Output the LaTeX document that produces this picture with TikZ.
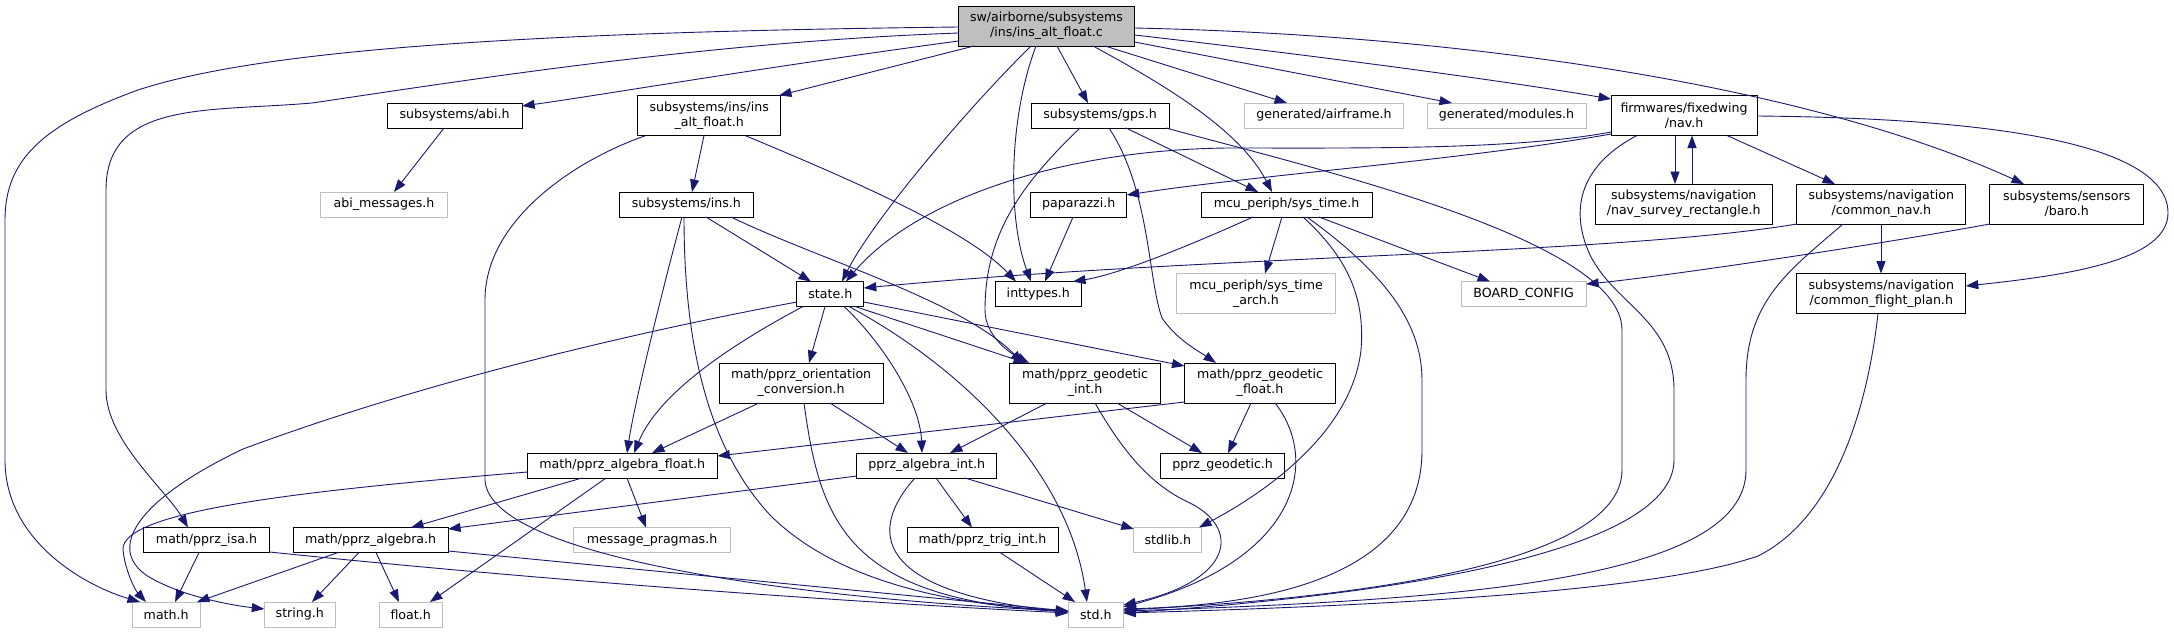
\documentclass[tikz,border=0pt]{standalone}
\usepackage{fontspec}
\setmainfont{DejaVu Sans}
\usetikzlibrary{arrows.meta}
\definecolor{edgeblue}{HTML}{191970}
\definecolor{boxgrey}{HTML}{BFBFBF}
\newcommand\lbl{\fontsize{12.6}{15}\selectfont}
\begin{document}
\begin{tikzpicture}[x=1pt,y=-1pt,
  box/.style={draw=black, line width=1pt, fill=white, inner sep=0pt, outer sep=0pt, align=center, font=\lbl, minimum height=25pt},
  tall/.style={minimum height=40pt},
  gbox/.style={box, draw=boxgrey},
  edge/.style={draw=edgeblue, line width=0.9pt, -{Triangle[length=12.5pt,width=9pt,fill=edgeblue]}}]
\useasboundingbox (0,0) rectangle (2174,633);
\fill[white] (0,0) rectangle (2174,633);
% nodes
\node[box, tall, fill=boxgrey, minimum width=176pt] (root) at (1046.5,26) {sw/airborne/subsystems\\/ins/ins\_alt\_float.c};
\node[box, minimum width=135pt] (abi) at (454.6,115.5) {subsystems/abi.h};
\node[gbox, minimum width=127pt] (abimsg) at (384,204.5) {abi\_messages.h};
\node[box, tall, minimum width=143pt] (insalt) at (709.2,115.5) {subsystems/ins/ins\\\_alt\_float.h};
\node[box, minimum width=134pt] (ins) at (686.4,204.5) {subsystems/ins.h};
\node[box, minimum width=67pt] (state) at (830.3,294) {state.h};
\node[box, minimum width=86pt] (inttypes) at (1038.3,294) {inttypes.h};
\node[box, minimum width=138pt] (gps) at (1100,115.5) {subsystems/gps.h};
\node[box, minimum width=96pt] (paparazzi) at (1078.7,204.5) {paparazzi.h};
\node[box, minimum width=171pt] (systime) at (1286.5,204.5) {mcu\_periph/sys\_time.h};
\node[gbox, tall, minimum width=159pt] (systimearch) at (1256,293.5) {mcu\_periph/sys\_time\\\_arch.h};
\node[gbox, minimum width=159pt] (airframe) at (1324,115.5) {generated/airframe.h};
\node[gbox, minimum width=159pt] (modules) at (1506.5,115.5) {generated/modules.h};
\node[box, tall, minimum width=146pt] (nav) at (1684.1,115.5) {firmwares/fixedwing\\/nav.h};
\node[box, tall, minimum width=177pt] (navsurvey) at (1683.7,204) {subsystems/navigation\\/nav\_survey\_rectangle.h};
\node[box, tall, minimum width=169pt] (commonnav) at (1881.3,204) {subsystems/navigation\\/common\_nav.h};
\node[box, tall, minimum width=154pt] (baro) at (2066.7,204) {subsystems/sensors\\/baro.h};
\node[gbox, minimum width=125pt] (board) at (1523.6,294) {BOARD\_CONFIG};
\node[box, tall, minimum width=169pt] (cfp) at (1881.3,293.5) {subsystems/navigation\\/common\_flight\_plan.h};
\node[box, tall, minimum width=164pt] (orient) at (801.1,383) {math/pprz\_orientation\\\_conversion.h};
\node[box, tall, minimum width=151pt] (geoint) at (1085.1,383) {math/pprz\_geodetic\\\_int.h};
\node[box, tall, minimum width=151pt] (geofloat) at (1260,383) {math/pprz\_geodetic\\\_float.h};
\node[box, minimum width=190pt] (algfloat) at (622.3,465.5) {math/pprz\_algebra\_float.h};
\node[box, minimum width=140pt] (algint) at (926.7,465.5) {pprz\_algebra\_int.h};
\node[box, minimum width=124pt] (geodetic) at (1222.6,465.5) {pprz\_geodetic.h};
\node[box, minimum width=126pt] (isa) at (206.5,540) {math/pprz\_isa.h};
\node[box, minimum width=155pt] (alg) at (370.6,540) {math/pprz\_algebra.h};
\node[gbox, minimum width=157pt] (pragmas) at (652.1,540) {message\_pragmas.h};
\node[box, minimum width=151pt] (trig) at (982.5,540) {math/pprz\_trig\_int.h};
\node[gbox, minimum width=68pt] (stdlib) at (1167.8,540) {stdlib.h};
\node[gbox, minimum width=68pt] (math) at (166.2,614.5) {math.h};
\node[gbox, minimum width=71pt] (string) at (299.8,614.5) {string.h};
\node[gbox, minimum width=63pt] (float) at (410.7,614.5) {float.h};
\node[gbox, minimum width=55pt] (std) at (1095.8,614.5) {std.h};
% root edges
\draw[edge] (root.west |- 0,27) .. controls (520,32) and (260,50) .. (138,90) .. controls (42,125) and (5,160) .. (5,220) -- (5,460) .. controls (5,540) and (83,585) .. (140,0 |- math.north);
\draw[edge] (root.west |- 0,33) .. controls (706,42) and (468,80) .. (312,103) .. controls (208,112) and (106,100) .. (106,190) -- (106,390) .. controls (106,440) and (166,490) .. (188,0 |- isa.north);
\draw[edge] (root.west |- 0,41) .. controls (758,68) and (602,95) .. (abi.east |- 0,106);
\draw[edge] (974,0 |- root.south) -- (779,0 |- insalt.north);
\draw[edge] (1031,0 |- root.south) .. controls (966,110) and (873,220) .. (842,0 |- state.north);
\draw[edge] (1036,0 |- root.south) .. controls (1008,120) and (1008,220) .. (1031,0 |- inttypes.north);
\draw[edge] (1057,0 |- root.south) -- (1088,0 |- gps.north);
\draw[edge] (1093,0 |- root.south) .. controls (1165,85) and (1240,130) .. (1272,0 |- systime.north);
\draw[edge] (1105,0 |- root.south) -- (1287,0 |- airframe.north);
\draw[edge] (root.east |- 0,42) -- (1452,0 |- modules.north);
\draw[edge] (root.east |- 0,35) .. controls (1310,55) and (1500,80) .. (nav.west |- 0,99);
\draw[edge] (root.east |- 0,28) .. controls (1465,35) and (1807,85) .. (2024,0 |- baro.north);
% second level
\draw[edge] (444,0 |- abi.south) -- (394,0 |- abimsg.north);
\draw[edge] (704,0 |- insalt.south) -- (692,0 |- ins.north);
\draw[edge] (745,0 |- insalt.south) .. controls (852,180) and (967,230) .. (1016,0 |- inttypes.north);
\draw[edge] (646,0 |- insalt.south) .. controls (575,160) and (485,220) .. (485,300) -- (485,480) .. controls (489,560) and (820,600) .. (std.west |- 0,611);
\draw[edge] (706,0 |- ins.south) -- (811,0 |- state.north);
\draw[edge] (682,0 |- ins.south) .. controls (665,280) and (635,400) .. (627,0 |- algfloat.north);
\draw[edge] (684,0 |- ins.south) .. controls (684,350) and (710,450) .. (770,515) .. controls (840,585) and (960,605) .. (std.west |- 0,611);
\draw[edge] (731,0 |- ins.south) .. controls (820,260) and (960,300) .. (1023,0 |- geoint.north);
% state
\draw[edge] (803,0 |- state.south) .. controls (740,340) and (660,390) .. (634,0 |- algfloat.north);
\draw[edge] (825,0 |- state.south) -- (809,0 |- orient.north);
\draw[edge] (844,0 |- state.south) .. controls (880,340) and (920,400) .. (922,0 |- algint.north);
\draw[edge] (849,0 |- state.south) .. controls (975,375) and (1070,480) .. (1087,0 |- std.north);
\draw[edge] (855,0 |- state.south) -- (1026,0 |- geoint.north);
\draw[edge] (state.east |- 0,302) -- (geofloat.west |- 0,366);
\draw[edge] (state.west |- 0,302) .. controls (620,335) and (415,385) .. (243,449) .. controls (146,495) and (104,545) .. (146,575) .. controls (177,595) and (229,605) .. (string.west |- 0,609);
% algebra float
\draw[edge] (algfloat.west |- 0,472) .. controls (312,490) and (120,510) .. (123,550) .. controls (125,570) and (135,590) .. (146,0 |- math.north);
\draw[edge] (582,0 |- algfloat.south) -- (411,0 |- alg.north);
\draw[edge] (606,0 |- algfloat.south) -- (430,0 |- float.north);
\draw[edge] (627,0 |- algfloat.south) -- (646,0 |- pragmas.north);
% orientation
\draw[edge] (759,0 |- orient.south) -- (652,0 |- algfloat.north);
\draw[edge] (830,0 |- orient.south) -- (908,0 |- algint.north);
\draw[edge] (804,0 |- orient.south) .. controls (820,520) and (845,598) .. (std.west |- 0,612);
% geodetic int / float
\draw[edge] (1047,0 |- geoint.south) -- (950,0 |- algint.north);
\draw[edge] (1117,0 |- geoint.south) -- (1202,0 |- geodetic.north);
\draw[edge] (1095,0 |- geoint.south) .. controls (1122,450) and (1150,485) .. (1190,503) .. controls (1240,528) and (1235,580) .. (std.east |- 0,605);
\draw[edge] (geofloat.west |- 0,402) -- (algfloat.east |- 0,456);
\draw[edge] (1251,0 |- geofloat.south) -- (1228,0 |- geodetic.north);
\draw[edge] (1275,0 |- geofloat.south) .. controls (1320,460) and (1300,560) .. (std.east |- 0,607);
% algebra int
\draw[edge] (algint.west |- 0,476) -- (alg.east |- 0,529);
\draw[edge] (936,0 |- algint.south) -- (972,0 |- trig.north);
\draw[edge] (915,0 |- algint.south) .. controls (868,530) and (872,592) .. (std.west |- 0,612);
\draw[edge] (965,0 |- algint.south) -- (stdlib.west |- 0,529);
\draw[edge] (1000,0 |- trig.south) -- (1075,0 |- std.north);
% algebra, isa
\draw[edge] (338,0 |- alg.south) -- (197,0 |- math.north);
\draw[edge] (359,0 |- alg.south) -- (312,0 |- string.north);
\draw[edge] (376,0 |- alg.south) -- (399,0 |- float.north);
\draw[edge] (alg.east |- 0,551) -- (std.west |- 0,611);
\draw[edge] (199,0 |- isa.south) -- (175,0 |- math.north);
\draw[edge] (isa.east |- 0,552) .. controls (520,578) and (810,600) .. (std.west |- 0,613);
% gps
\draw[edge] (1109,0 |- gps.south) .. controls (1150,190) and (1148,280) .. (1162,318) .. controls (1177,340) and (1200,352) .. (1216,0 |- geofloat.north);
\draw[edge] (1126,0 |- gps.south) -- (1258,0 |- systime.north);
\draw[edge] (1080,0 |- gps.south) .. controls (1015,190) and (985,240) .. (985,310) .. controls (985,335) and (1008,352) .. (1029,0 |- geoint.north);
\draw[edge] (1166,0 |- gps.south) .. controls (1320,170) and (1622,240) .. (1622,330) -- (1622,470) .. controls (1622,570) and (1320,600) .. (std.east |- 0,610);
% sys_time
\draw[edge] (1253,0 |- systime.south) .. controls (1180,250) and (1115,275) .. (1073,0 |- inttypes.north);
\draw[edge] (1282,0 |- systime.south) -- (1265,0 |- systimearch.north);
\draw[edge] (1319,0 |- systime.south) -- (1490,0 |- board.north);
\draw[edge] (1303,0 |- systime.south) .. controls (1350,260) and (1365,300) .. (1361,350) .. controls (1352,430) and (1270,490) .. (1199,0 |- stdlib.north);
\draw[edge] (1307,0 |- systime.south) .. controls (1380,270) and (1422,320) .. (1422,380) -- (1422,450) .. controls (1422,580) and (1260,605) .. (std.east |- 0,609);
\draw[edge] (1073,0 |- paparazzi.south) -- (1045,0 |- inttypes.north);
% nav
\draw[edge] (nav.west |- 0,134) .. controls (1465,160) and (1257,175) .. (paparazzi.east |- 0,195);
\draw[edge] (nav.west |- 0,132) .. controls (1515,150) and (1360,148) .. (1227,148) .. controls (1060,150) and (915,200) .. (846,0 |- state.north);
\draw[edge] (1675,0 |- nav.south) -- (1675,0 |- navsurvey.north);
\draw[edge] (1692,0 |- navsurvey.north) -- (1692,0 |- nav.south);
\draw[edge] (1727,0 |- nav.south) -- (1835,0 |- commonnav.north);
\draw[edge] (nav.east |- 0,116) .. controls (1975,118) and (2168,140) .. (2168,213) .. controls (2168,260) and (2070,275) .. (cfp.east |- 0,286);
\draw[edge] (1637,0 |- nav.south) .. controls (1590,160) and (1565,200) .. (1590,255) .. controls (1615,305) and (1674,320) .. (1674,390) -- (1674,460) .. controls (1674,540) and (1460,590) .. (std.east |- 0,613);
% common nav, baro, flight plan
\draw[edge] (commonnav.south west) .. controls (1610,255) and (1210,255) .. (state.east |- 0,288);
\draw[edge] (1881,0 |- commonnav.south) -- (1881,0 |- cfp.north);
\draw[edge] (1843,0 |- commonnav.south) .. controls (1790,270) and (1746,300) .. (1746,380) -- (1746,470) .. controls (1746,580) and (1460,600) .. (std.east |- 0,611);
\draw[edge] (baro.south west) .. controls (1859,248) and (1651,278) .. (board.east |- 0,284);
\draw[edge] (1878,0 |- cfp.south) .. controls (1866,420) and (1830,520) .. (1758,556) .. controls (1660,590) and (1410,605) .. (std.east |- 0,613);
\end{tikzpicture}
\end{document}
